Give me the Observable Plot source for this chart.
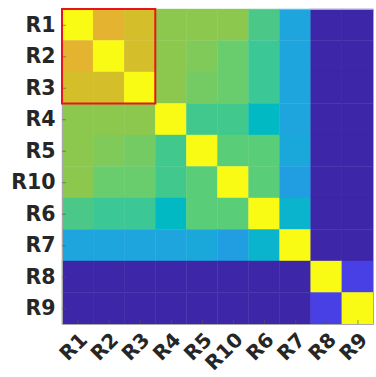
<!DOCTYPE html>
<html>
<head>
<meta charset="utf-8">
<script src="https://cdn.jsdelivr.net/npm/d3@7"></script>
<script src="https://cdn.jsdelivr.net/npm/@observablehq/plot@0.6"></script>
<style>
  html, body { margin: 0; padding: 0; background: #fff; }
  #chart svg { display: block; }
</style>
</head>
<body>
<div id="chart"></div>
<script>
// Category order (rows and columns)
const labels = ["R1", "R2", "R3", "R4", "R5", "R10", "R6", "R7", "R8", "R9"];

// Similarity values, one array per row (estimated from the colours)
const rowR1  = [1.00, 0.83, 0.78, 0.60, 0.60, 0.60, 0.50, 0.30, 0.00, 0.00];
const rowR2  = [0.83, 1.00, 0.78, 0.60, 0.59, 0.57, 0.47, 0.30, 0.00, 0.00];
const rowR3  = [0.78, 0.78, 1.00, 0.60, 0.58, 0.57, 0.47, 0.30, 0.00, 0.00];
const rowR4  = [0.60, 0.60, 0.60, 1.00, 0.49, 0.49, 0.40, 0.30, 0.00, 0.00];
const rowR5  = [0.60, 0.59, 0.58, 0.49, 1.00, 0.54, 0.54, 0.31, 0.00, 0.00];
const rowR10 = [0.60, 0.57, 0.57, 0.49, 0.54, 1.00, 0.54, 0.28, 0.00, 0.00];
const rowR6  = [0.50, 0.47, 0.47, 0.40, 0.54, 0.54, 1.00, 0.35, 0.00, 0.00];
const rowR7  = [0.30, 0.30, 0.30, 0.30, 0.31, 0.28, 0.35, 1.00, 0.00, 0.00];
const rowR8  = [0.00, 0.00, 0.00, 0.00, 0.00, 0.00, 0.00, 0.00, 1.00, 0.10];
const rowR9  = [0.00, 0.00, 0.00, 0.00, 0.00, 0.00, 0.00, 0.00, 0.10, 1.00];

// Highlighted group (red box)
const highlight = ["R1", "R2", "R3"];

const rows = [rowR1, rowR2, rowR3, rowR4, rowR5, rowR10, rowR6, rowR7, rowR8, rowR9];

// Parula-like colormap stops
const cmapDomain = [0, 0.10, 0.27, 0.30, 0.35, 0.40, 0.47, 0.49, 0.50, 0.54, 0.57, 0.60, 0.78, 0.83, 1.0];
const cmapRange = ["#3e26a8", "#4840e4", "#2399e3", "#1ea5de", "#0ab4cd", "#00b9c3",
                   "#3cc896", "#41c88c", "#4bc887", "#5acd78", "#69cd6e", "#8cc84e",
                   "#d4be2a", "#e4b430", "#f9fb14"];

const table = [];
rows.forEach((r, i) => r.forEach((v, j) => table.push({row: i, col: j, value: v})));

const hIdx = highlight.map(l => labels.indexOf(l));
const box = [{x1: d3.min(hIdx) - 0.5, x2: d3.max(hIdx) + 0.5, y1: d3.min(hIdx) - 0.5, y2: d3.max(hIdx) + 0.5}];

const idx = d3.range(labels.length);
const font = "DejaVu Sans, sans-serif";

const plot = Plot.plot({
  width: 376,
  height: 377,
  marginLeft: 62,
  marginRight: 3,
  marginTop: 9,
  marginBottom: 53,
  style: {fontFamily: font, background: "#fff", color: "#262626"},
  x: {domain: [-0.5, labels.length - 0.5], axis: null},
  y: {domain: [-0.5, labels.length - 0.5], reverse: true, axis: null},
  color: {type: "linear", domain: cmapDomain, range: cmapRange, interpolate: "rgb"},
  marks: [
    Plot.rect(table, {
      x1: d => d.col - 0.5, x2: d => d.col + 0.5,
      y1: d => d.row - 0.5, y2: d => d.row + 0.5,
      fill: "value", stroke: "value", strokeWidth: 0.4
    }),
    Plot.frame({stroke: "#a8a8a8", strokeWidth: 1}),
    // inward tick marks
    Plot.axisY({ticks: idx, tickSize: -4, tickFormat: () => "", stroke: "#555", strokeOpacity: 0.6}),
    Plot.axisX({ticks: idx, tickSize: -4, tickFormat: () => "", stroke: "#555", strokeOpacity: 0.6}),
    // labels
    Plot.axisY({
      ticks: idx, tickSize: 0, tickPadding: 7, tickFormat: i => labels[i],
      fontSize: 20.5, fontWeight: "bold", fill: "#262626", label: null
    }),
    Plot.axisX({
      ticks: idx, tickSize: 0, tickPadding: 10, tickFormat: i => labels[i],
      tickRotate: -45, fontSize: 20, fontWeight: "bold", fill: "#262626", label: null,
      dx: 6, dy: 2
    }),
    Plot.rect(box, {x1: "x1", x2: "x2", y1: "y1", y2: "y2", fill: "none", stroke: "#e8141b", strokeWidth: 2})
  ]
});

document.getElementById("chart").appendChild(plot);
</script>
</body>
</html>
